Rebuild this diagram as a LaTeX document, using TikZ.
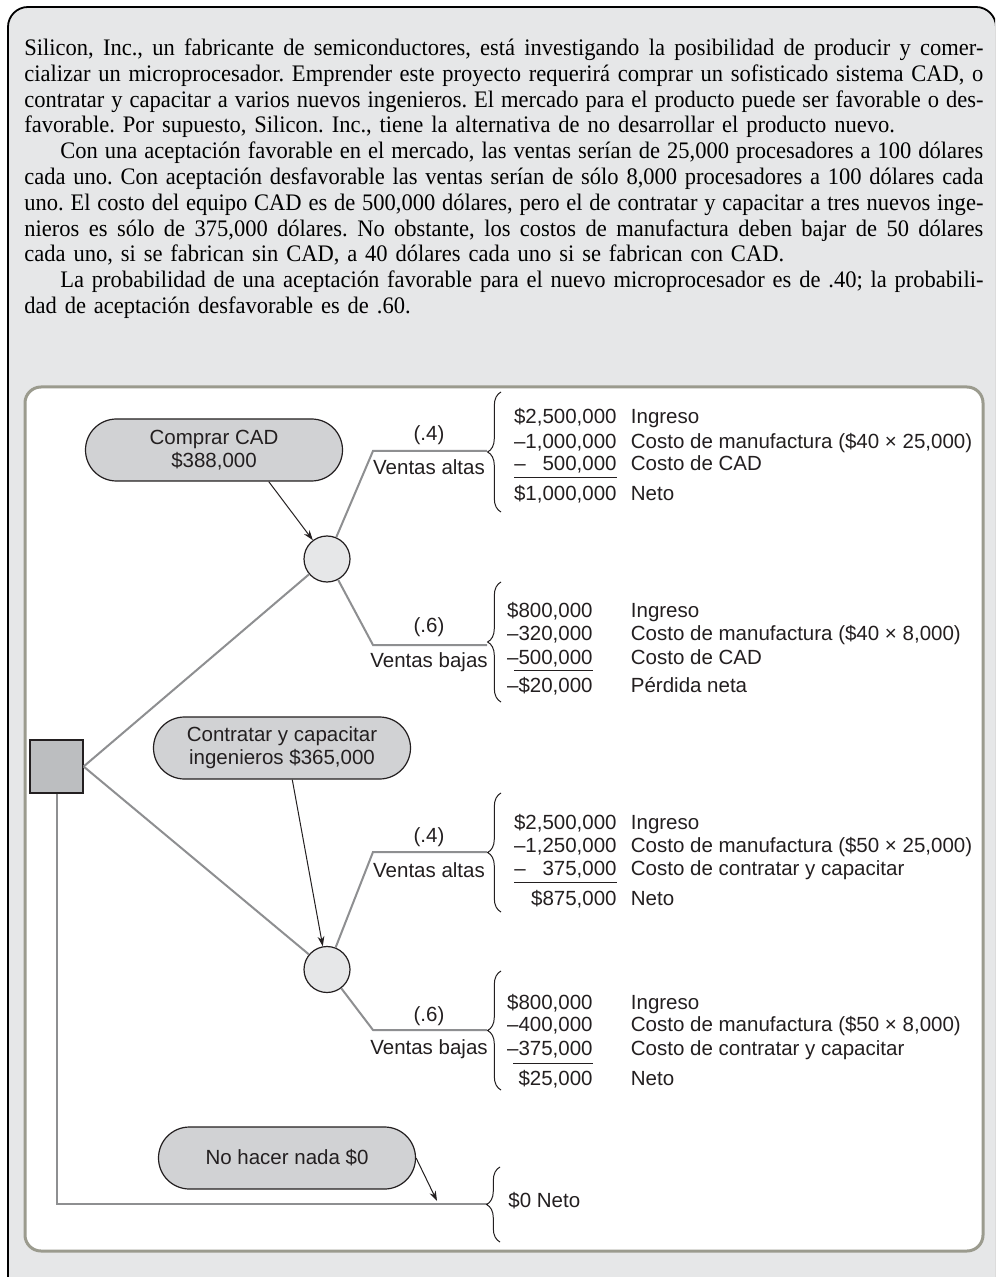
\documentclass[tikz,border=0pt]{standalone}
\usepackage{fontspec}
\setmainfont{Liberation Serif}[FakeStretch=0.95]
\newfontfamily\diagfont{Liberation Sans}
\usetikzlibrary{arrows.meta,decorations.pathreplacing}
\definecolor{pagegray}{HTML}{E6E7E8}
\definecolor{panelrim}{HTML}{9B9B8E}
\definecolor{branchgray}{HTML}{8E8F91}
\definecolor{boxgray}{HTML}{D1D2D4}
\definecolor{sqgray}{HTML}{BCBEC0}
\definecolor{ink}{HTML}{231F20}
\frenchspacing
\newcommand\storyfont{\rmfamily\fontsize{11.85}{12.9}\selectfont}
\newcommand\fullline[1]{\leavevmode\hbox to 479.5pt{\spaceskip=.25em plus .5em minus .07em\relax #1}}

\begin{document}
\begin{tikzpicture}[x=0.5pt,y=-0.5pt,
  font=\diagfont\fontsize{10.25}{11.5}\selectfont,text=ink,
  branch/.style={branchgray,line width=1pt},
  choice/.style={draw=ink,fill=boxgray,line width=.6pt,rounded corners=15.5pt,
    minimum width=128.5pt,minimum height=31pt,align=center,inner sep=0pt},
  chance/.style={circle,draw=ink,fill=pagegray,line width=.6pt,minimum size=23pt,inner sep=0pt},
  pointer/.style={ink,line width=.5pt,-{Stealth[length=5pt,width=3.4pt]}},
  bracer/.style={ink,line width=.5pt,decorate,decoration={brace,amplitude=6.7pt}},
  amt/.style={anchor=base east,inner sep=0pt},
  item/.style={anchor=base west,inner sep=0pt},
  prob/.style={anchor=base,inner sep=0pt}]
\useasboundingbox (0,0) rectangle (995,1277);
\clip (0,0) rectangle (995,1277);
\draw[black,fill=pagegray,line width=.9pt,rounded corners=10pt] (8,1300) -- (8,7) -- (996,7) -- (996,1300);
\node[anchor=north west,inner sep=0pt,text width=479.5pt,align=left,text=black,
  font=\storyfont] (story) at (24,38.5) {%
\fullline{Silicon, Inc., un fabricante de semiconductores, está investigando la posibilidad de producir y comer-}\\
\fullline{cializar un microprocesador. Emprender este proyecto requerirá comprar un sofisticado sistema CAD, o}\\
\fullline{contratar y capacitar a varios nuevos ingenieros. El mercado para el producto puede ser favorable o des-}\\
favorable. Por supuesto, Silicon. Inc., tiene la alternativa de no desarrollar el producto nuevo.\\
\fullline{\hspace*{18pt}Con una aceptación favorable en el mercado, las ventas serían de 25,000 procesadores a 100 dólares}\\
\fullline{cada uno. Con aceptación desfavorable las ventas serían de sólo 8,000 procesadores a 100 dólares cada}\\
\fullline{uno. El costo del equipo CAD es de 500,000 dólares, pero el de contratar y capacitar a tres nuevos inge-}\\
\fullline{nieros es sólo de 375,000 dólares. No obstante, los costos de manufactura deben bajar de 50 dólares}\\
cada uno, si se fabrican sin CAD, a 40 dólares cada uno si se fabrican con CAD.\\
\fullline{\hspace*{18pt}La probabilidad de una aceptación favorable para el nuevo microprocesador es de .40; la probabili-}\\
dad de aceptación desfavorable es de .60.};
\draw[panelrim,fill=white,line width=1.5pt,rounded corners=8pt] (25,387) rectangle (983,1251);
\node[draw=ink,fill=sqgray,line width=.6pt,minimum size=26.5pt,inner sep=0pt] (pick) at (56.5,766.5) {};
\node[chance] (cad) at (327,559) {};
\node[chance] (crew) at (327,969.5) {};
\node[choice] (buycad) at (214,450) {Comprar CAD\\\$388,000};
\node[choice] (hire) at (282,748) {Contratar y capacitar\\ingenieros \$365,000};
\node[choice] (nothing) at (287,1158) {No hacer nada \$0};
\coordinate (cadhi) at (373,451);
\coordinate (cadhiE) at (487,451);
\coordinate (cadlo) at (373,645);
\coordinate (cadloE) at (487,645);
\coordinate (crewhi) at (373,852);
\coordinate (crewhiE) at (487,852);
\coordinate (crewlo) at (373,1030);
\coordinate (crewloE) at (487,1030);
\coordinate (idle) at (56.5,1204);
\coordinate (idleE) at (487,1204);
\coordinate (idlemark) at (437,1201);
\draw[branch] (pick.east) -- (cad);
\draw[branch] (pick.east) -- (crew);
\draw[branch] (pick.south) -- (idle) -- (idleE);
\draw[branch] (cad) -- (cadhi) -- (cadhiE);
\draw[branch] (cad) -- (cadlo) -- (cadloE);
\draw[branch] (crew) -- (crewhi) -- (crewhiE);
\draw[branch] (crew) -- (crewlo) -- (crewloE);
\draw[pointer] (buycad.-30) -- (cad);
\draw[pointer] (hire.-72) -- (crew);
\draw[pointer] (nothing.east) -- (idlemark);
\draw[bracer] (501,512) -- (501,392);
\draw[bracer] (501,702) -- (501,582);
\draw[bracer] (501,912) -- (501,793);
\draw[bracer] (501,1090) -- (501,971);
\draw[bracer] (500,1242) -- (500,1167);
\node[prob] (p1) at (429,441) {(.4)};
\node[prob] (s1) at (429,475) {Ventas altas};
\node[prob] (p2) at (429,632) {(.6)};
\node[prob] (s2) at (429,667) {Ventas bajas};
\node[prob] (p3) at (429,842) {(.4)};
\node[prob] (s3) at (429,877) {Ventas altas};
\node[prob] (p4) at (429,1021) {(.6)};
\node[prob] (s4) at (429,1054) {Ventas bajas};
\node[amt] (a1) at (617,424) {\$2,500,000};
\node[item] (a1t) at (630.5,424) {Ingreso};
\node[amt] (a2) at (617,449) {–1,000,000};
\node[item] (a2t) at (630.5,449) {Costo de manufactura (\$40 × 25,000)};
\node[item] (a3m) at (514,471) {–};
\node[amt] (a3) at (617,471) {500,000};
\node[item] (a3t) at (630.5,471) {Costo de CAD};
\draw[ink,line width=.5pt] (514,478) -- (617,478);
\node[amt] (a4) at (617,501) {\$1,000,000};
\node[item] (a4t) at (630.5,501) {Neto};
\node[amt] (b1) at (593,617) {\$800,000};
\node[item] (b1t) at (630.5,617) {Ingreso};
\node[amt] (b2) at (593,640) {–320,000};
\node[item] (b2t) at (630.5,640) {Costo de manufactura (\$40 × 8,000)};
\node[amt] (b3) at (593,664) {–500,000};
\node[item] (b3t) at (630.5,664) {Costo de CAD};
\draw[ink,line width=.5pt] (514,670) -- (593,670);
\node[amt] (b4) at (593,692) {–\$20,000};
\node[item] (b4t) at (630.5,692) {Pérdida neta};
\node[amt] (c1) at (617,829) {\$2,500,000};
\node[item] (c1t) at (630.5,829) {Ingreso};
\node[amt] (c2) at (617,852) {–1,250,000};
\node[item] (c2t) at (630.5,852) {Costo de manufactura (\$50 × 25,000)};
\node[item] (c3m) at (514,875) {–};
\node[amt] (c3) at (617,875) {375,000};
\node[item] (c3t) at (630.5,875) {Costo de contratar y capacitar};
\draw[ink,line width=.5pt] (514,882) -- (617,882);
\node[amt] (c4) at (617,905) {\$875,000};
\node[item] (c4t) at (630.5,905) {Neto};
\node[amt] (d1) at (593,1009) {\$800,000};
\node[item] (d1t) at (630.5,1009) {Ingreso};
\node[amt] (d2) at (593,1031) {–400,000};
\node[item] (d2t) at (630.5,1031) {Costo de manufactura (\$50 × 8,000)};
\node[amt] (d3) at (593,1055) {–375,000};
\node[item] (d3t) at (630.5,1055) {Costo de contratar y capacitar};
\draw[ink,line width=.5pt] (513,1063) -- (593,1063);
\node[amt] (d4) at (593,1085) {\$25,000};
\node[item] (d4t) at (630.5,1085) {Neto};
\node[item] (z1) at (508,1207) {\$0 Neto};
\end{tikzpicture}
\end{document}
